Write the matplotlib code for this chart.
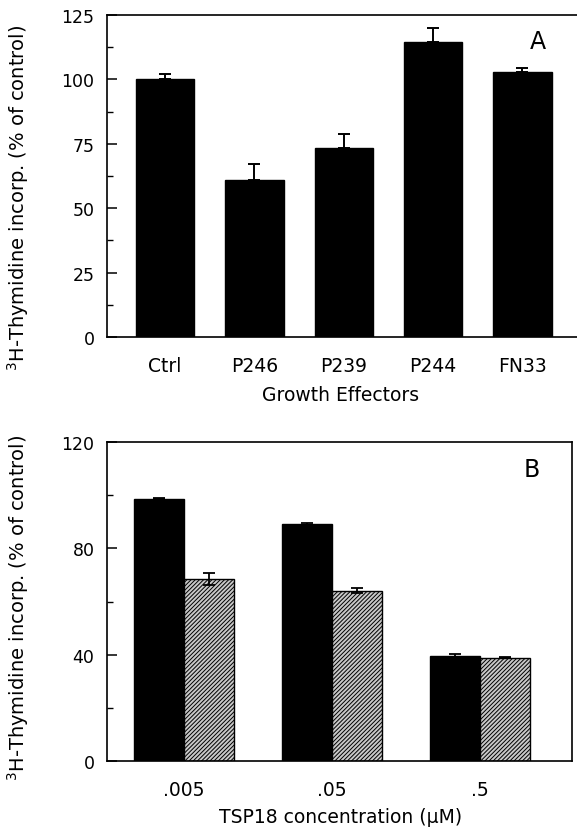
import numpy as np
import matplotlib
matplotlib.use('Agg')
import matplotlib.pyplot as plt

# Panel A data
effectors = ['Ctrl', 'P246', 'P239', 'P244', 'FN33']
thy_a = [100.0, 60.8, 73.2, 114.7, 103.0]
err_a = [2.1, 6.2, 5.7, 5.3, 1.4]

# Panel B data
conc_labels = ['.005', '.05', '.5']
thy_b_black = [98.7, 89.2, 39.4]
err_b_black = [0.3, 0.5, 0.7]
thy_b_hatch = [68.5, 64.1, 38.9]
err_b_hatch = [2.3, 0.9, 0.3]

plt.rcParams['font.family'] = ['DejaVu Sans']
plt.rcParams['hatch.linewidth'] = 0.7

W, H = 577, 828
fig = plt.figure(figsize=(W / 100, H / 100), dpi=100)


def px_axes(left, top, right, bottom):
    return fig.add_axes([left / W, 1 - bottom / H, (right - left) / W, (bottom - top) / H])


def style_axes(ax):
    for s in ax.spines.values():
        s.set_linewidth(1.2)
    ax.tick_params(axis='y', direction='in', length=7, width=1.1, pad=9, labelsize=12.5)
    ax.tick_params(axis='y', which='minor', direction='in', length=4, width=1.0)
    ax.tick_params(axis='x', length=0, pad=14, labelsize=13.5)
    ax.tick_params(axis='y', which='both', right=False)


# ---- Panel A ----
ax1 = px_axes(107, 16, 577, 338)
xa = np.arange(len(effectors))
ax1.bar(xa, thy_a, width=0.655, color='black', edgecolor='black')
ax1.errorbar(xa, thy_a, yerr=[np.zeros(len(thy_a)), err_a], fmt='none',
             ecolor='black', elinewidth=1.4, capsize=4, capthick=1.4)
ax1.set_xlim(-0.65, 4.61)
ax1.set_ylim(0, 125)
ax1.set_yticks([0, 25, 50, 75, 100, 125])
ax1.set_yticks(np.arange(12.5, 125, 25), minor=True)
ax1.set_xticks(xa)
ax1.set_xticklabels(effectors)
ax1.spines['right'].set_visible(False)
style_axes(ax1)
ax1.text(4.17, 115, 'A', fontsize=17, ha='center', va='center')

fig.text(341 / W, 1 - 396 / H, 'Growth Effectors', ha='center', va='center', fontsize=13.5)
fig.text(18 / W, 1 - 198 / H, '$^3$H-Thymidine incorp. (% of control)', rotation=90,
         ha='center', va='center', fontsize=14)

# ---- Panel B ----
ax2 = px_axes(107, 443, 572, 762)
xb = np.arange(len(conc_labels))
bw = 0.338
ax2.bar(xb - bw / 2, thy_b_black, width=bw, color='black', edgecolor='black')
ax2.bar(xb + bw / 2, thy_b_hatch, width=bw, facecolor='#c8c8c8', edgecolor='black',
        hatch='////////', linewidth=1.0)
ax2.errorbar(xb - bw / 2, thy_b_black, yerr=err_b_black, fmt='none',
             ecolor='black', elinewidth=1.3, capsize=4, capthick=1.3)
ax2.errorbar(xb + bw / 2, thy_b_hatch, yerr=err_b_hatch, fmt='none',
             ecolor='black', elinewidth=1.3, capsize=4, capthick=1.3)
ax2.set_xlim(-0.52, 2.62)
ax2.set_ylim(0, 120)
ax2.set_yticks([0, 40, 80, 120])
ax2.set_yticks([20, 60, 100], minor=True)
ax2.set_xticks(xb)
ax2.set_xticklabels(conc_labels)
style_axes(ax2)
ax2.text(2.35, 110, 'B', fontsize=17, ha='center', va='center')

fig.text(341 / W, 1 - 818 / H, 'TSP18 concentration (\u00b5M)', ha='center', va='center', fontsize=13.5)
fig.text(18 / W, 1 - 608 / H, '$^3$H-Thymidine incorp. (% of control)', rotation=90,
         ha='center', va='center', fontsize=14)

fig.savefig('out.png', dpi=100, facecolor='white')
